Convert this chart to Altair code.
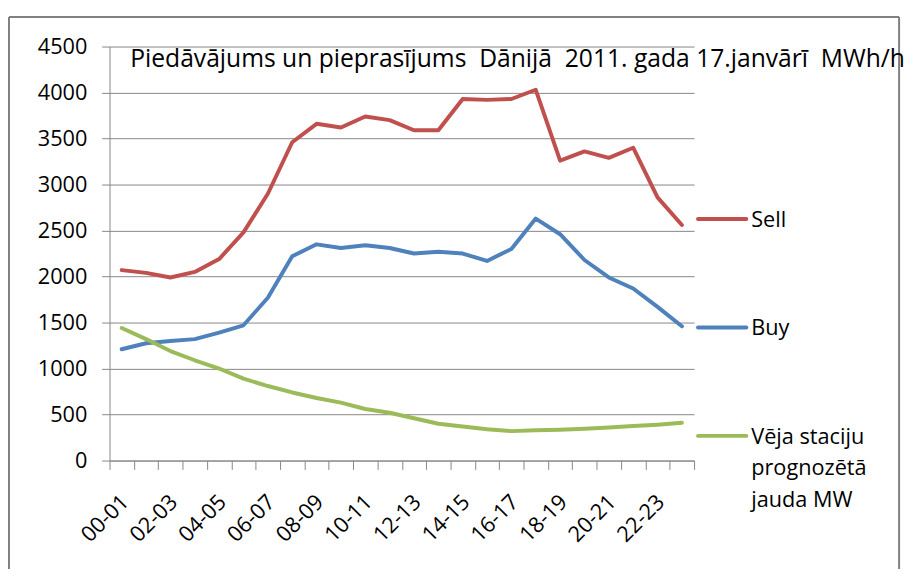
import altair as alt
import pandas as pd

categories = ["00-01", "01-02", "02-03", "03-04", "04-05", "05-06", "06-07", "07-08",
              "08-09", "09-10", "10-11", "11-12", "12-13", "13-14", "14-15", "15-16",
              "16-17", "17-18", "18-19", "19-20", "20-21", "21-22", "22-23", "23-24"]
series_names = ["Sell", "Buy", "Vēja staciju prognozētā jauda MW"]
sell = [2070, 2040, 1990, 2050, 2190, 2480, 2900, 3460, 3660, 3620, 3740, 3700,
        3590, 3590, 3930, 3920, 3930, 4030, 3260, 3360, 3290, 3400, 2860, 2560]
buy = [1210, 1275, 1300, 1320, 1390, 1470, 1770, 2220, 2350, 2310, 2340, 2310,
       2250, 2270, 2250, 2170, 2300, 2630, 2460, 2180, 1990, 1870, 1670, 1460]
wind = [1440, 1320, 1190, 1090, 1000, 890, 810, 740, 680, 630, 560, 520,
        460, 400, 370, 340, 320, 330, 335, 345, 360, 375, 390, 410]
colors = ["#C0504D", "#4F81BD", "#9BBB59"]
y_ticks = [0, 500, 1000, 1500, 2000, 2500, 3000, 3500, 4000, 4500]
title_text = "Piedāvājums un pieprasījums\u00a0 Dānijā\u00a0 2011. gada 17.janvārī\u00a0 MWh/h"

rows = []
for name, vals in zip(series_names, [sell, buy, wind]):
    for i, (c, v) in enumerate(zip(categories, vals)):
        rows.append({"idx": i, "hour": c, "value": v, "series": name})
df = pd.DataFrame(rows)

n = len(categories)
x_boundaries = [i - 0.5 for i in range(n + 1)]
cat_array = "[" + ",".join("'" + c + "'" for c in categories) + "]"
x_label_expr = ("(datum.value + 0.5) % 2 == 0 && datum.value < " + str(n - 1) +
                " ? " + cat_array + "[datum.value + 0.5] : ''")

FONT = "Open Sans"
GRID = "#868686"
BORDER = "#808080"
W, H = 593, 420

color = alt.Color("series:N", scale=alt.Scale(domain=series_names, range=colors), legend=None)

lines = alt.Chart(df).mark_line(strokeWidth=4, strokeCap="round", strokeJoin="round").encode(
    x=alt.X("idx:Q", scale=alt.Scale(domain=[-0.5, n - 0.5], nice=False, zero=False),
            axis=alt.Axis(title=None, values=x_boundaries, labelAngle=-45, labelAlign="right",
                          labelBaseline="middle", labelOverlap=False,
                          labelExpr=x_label_expr, labelOffset=W / n / 2 + 3,
                          tickSize=9, labelPadding=29, domainColor=GRID, tickColor=GRID,
                          labelFont=FONT, labelFontSize=22, labelColor="black", grid=False)),
    y=alt.Y("value:Q", scale=alt.Scale(domain=[0, 4500], nice=False),
            axis=alt.Axis(title=None, values=y_ticks, format="d", tickSize=8, labelPadding=15,
                          domainColor=GRID, tickColor=GRID, gridColor=GRID, grid=True,
                          labelFont=FONT, labelFontSize=22, labelColor="black")),
    color=color,
    detail="series:N",
)

one = pd.DataFrame({"k": [0]})
border_top = alt.Chart(one).mark_rule(color=BORDER, strokeWidth=2).encode(
    x=alt.value(-102), x2=alt.value(801), y=alt.value(-30))
border_left = alt.Chart(one).mark_rule(color=BORDER, strokeWidth=2).encode(
    x=alt.value(-102), y=alt.value(-30), y2=alt.value(530))
border_right = alt.Chart(one).mark_rule(color=BORDER, strokeWidth=2).encode(
    x=alt.value(801), y=alt.value(-30), y2=alt.value(530))
title = alt.Chart(one).mark_text(align="left", baseline="alphabetic", font=FONT,
                                 fontSize=25, color="black").encode(
    x=alt.value(21), y=alt.value(21), text=alt.value(title_text))

legend_layers = []
legend_y = [175, 285, 395]
for name, ly in zip(series_names, legend_y):
    ldf = pd.DataFrame({"series": [name]})
    legend_layers.append(alt.Chart(ldf).mark_rule(strokeWidth=4, strokeCap="round").encode(
        x=alt.value(597), x2=alt.value(646), y=alt.value(ly), color=color))
    label = "Vēja staciju\nprognozētā\njauda MW" if name.startswith("Vēja") else name
    legend_layers.append(alt.Chart(ldf).mark_text(
        align="left", baseline="alphabetic", font=FONT, fontSize=22, color="black",
        lineBreak="\n", lineHeight=32).encode(
        x=alt.value(651), y=alt.value(ly + 8), text=alt.value(label)))

chart = alt.layer(border_top, border_left, border_right,
                  lines, title, *legend_layers).properties(
    width=W, height=H,
    padding={"left": 0, "top": 4, "right": 0, "bottom": 0},
).configure_view(stroke=None)

chart.save("out.html", embed_options={"renderer": "svg", "actions": False})
